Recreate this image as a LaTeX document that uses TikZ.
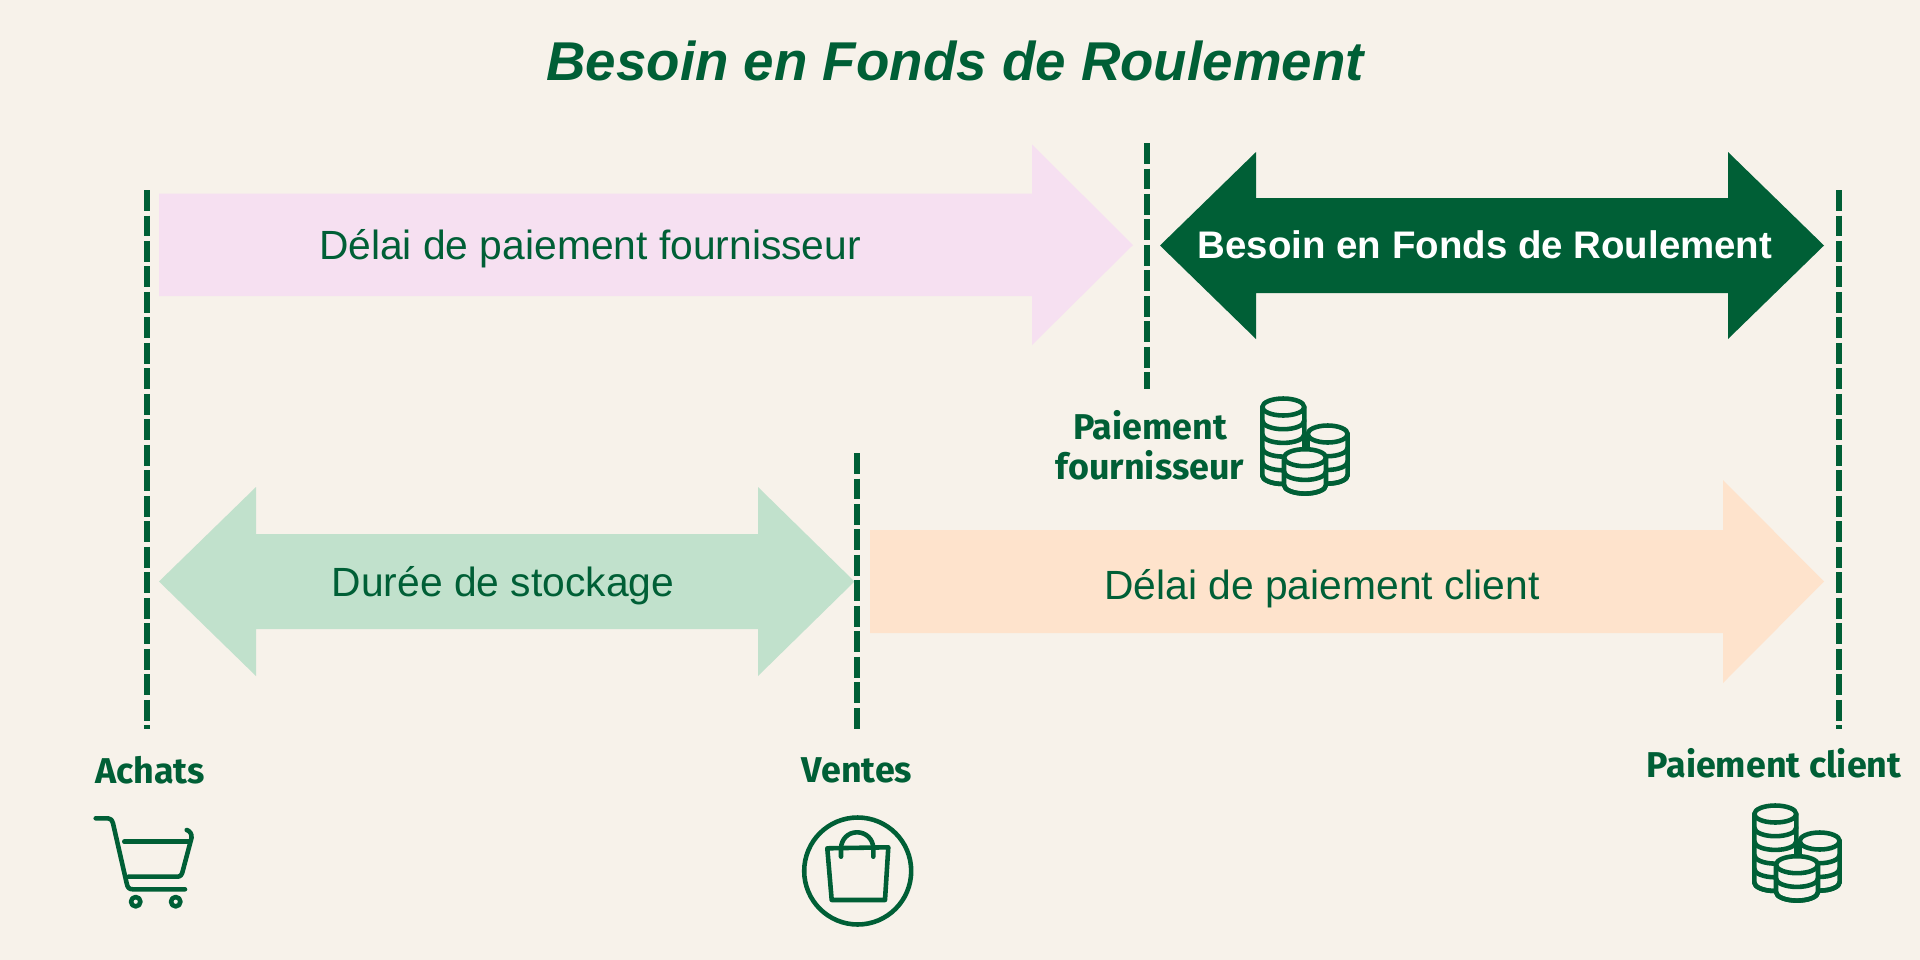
\documentclass[tikz,border=0pt]{standalone}
\usepackage{fontspec}
\setmainfont{Liberation Sans}
\newfontfamily\labelfont{Fira Sans}
\usetikzlibrary{positioning}

\definecolor{bgcream}{RGB}{247,242,234}
\definecolor{darkgreen}{RGB}{0,95,54}
\definecolor{pinkfill}{RGB}{246,224,241}
\definecolor{mintfill}{RGB}{193,225,204}
\definecolor{peachfill}{RGB}{254,227,204}

\tikzset{
  dashline/.style={darkgreen, line width=1.7pt, dash pattern=on 5.9pt off 1.35pt},
  iconline/.style={darkgreen, line width=1.3pt, line cap=round, line join=round},
  bodytext/.style={darkgreen, inner sep=0pt, font=\fontsize{11.6}{13}\selectfont},
  boldtext/.style={white, inner sep=0pt, font=\bfseries\fontsize{10.93}{13}\selectfont},
  labeltext/.style={darkgreen, inner sep=0pt, align=center, font=\labelfont\bfseries\fontsize{10.2}{11.4}\selectfont},
}

% pile de pieces : x, haut, rayon, nombre de couches
\newcommand{\coinstack}[4]{
  \filldraw [iconline, fill=bgcream] (#1-#3,#2) -- (#1-#3,#2+#4*13.7)
    arc [start angle=180, end angle=0, x radius=#3, y radius=8.5] -- (#1+#3,#2) -- cycle;
  \foreach \k in {1,...,#4} {
    \draw [iconline] (#1-#3,#2+\k*13.7) arc [start angle=180, end angle=0, x radius=#3, y radius=8.5];
  }
  \filldraw [iconline, fill=bgcream] (#1,#2) ellipse [x radius=#3, y radius=8.5];
}
\newcommand{\coinicon}[1]{
  \begin{scope}[shift={(#1)}]
    \coinstack{-21.7}{-39}{21}{5}
    \coinstack{22.7}{-12}{20}{3}
    \coinstack{0}{11.7}{21}{2}
  \end{scope}
}

\begin{document}
\begin{tikzpicture}[x=0.01cm, y=-0.01cm]
\fill [bgcream] (0,0) rectangle (1920,960);
\useasboundingbox (0,0) rectangle (1920,960);
% fleches
\fill [pinkfill] (159,193.5) -- (1032,193.5) -- (1032,144.5) -- (1133,245) -- (1032,345) -- (1032,296) -- (159,296) -- cycle;
\fill [darkgreen] (1160,245.5) -- (1256,152) -- (1256,198) -- (1728,198) -- (1728,152) -- (1824,245.5) -- (1728,339) -- (1728,293) -- (1256,293) -- (1256,339) -- cycle;
\fill [mintfill] (159,581.5) -- (256,487) -- (256,534) -- (758,534) -- (758,487) -- (854.5,581.5) -- (758,676) -- (758,629) -- (256,629) -- (256,676) -- cycle;
\fill [peachfill] (870,530) -- (1723,530) -- (1723,480) -- (1824,581.5) -- (1723,683) -- (1723,633) -- (870,633) -- cycle;
% pointilles
\coordinate (achatstop) at (147,190);
\coordinate (achatsbot) at (147,729);
\coordinate (ventestop) at (857,453);
\coordinate (ventesbot) at (857,729);
\coordinate (fourntop) at (1147,143);
\coordinate (fournbot) at (1147,389);
\coordinate (clienttop) at (1839,190);
\coordinate (clientbot) at (1839,729);
\draw [dashline] (achatstop) -- (achatsbot);
\draw [dashline] (ventestop) -- (ventesbot);
\draw [dashline] (fourntop) -- (fournbot);
\draw [dashline] (clienttop) -- (clientbot);
% textes
\node [darkgreen, inner sep=0pt, font=\bfseries\itshape\fontsize{15.55}{17}\selectfont] (title) at (955,61) {Besoin en Fonds de Roulement};
\node [bodytext] (delaifourn) at (590,249) {Délai de paiement fournisseur};
\node [boldtext] (bfr) at (1485,245) {Besoin en Fonds de Roulement};
\node [bodytext] (stockage) at (503,586) {Durée de stockage};
\node [bodytext] (delaiclient) at (1322,589) {Délai de paiement client};
\node [labeltext] (achats) at (150,770) {Achats};
\node [labeltext] (ventes) at (857,770) {Ventes};
\node [labeltext] (paiefourn) at (1150,445) {Paiement\\fournisseur};
\node [labeltext] (paieclient) at (1774,763) {Paiement client};
% icones
\coinicon{1305,446}
\coinicon{1797,853}
% chariot
\draw [iconline] (95.7,818.3) -- (108,818.3) .. controls (110.5,818.3) and (112,820) .. (113,823.3) -- (126.7,883.3) .. controls (127.5,887.5) and (129,889.3) .. (133,889.3) -- (185,889.3);
\draw [iconline] (186.7,830) .. controls (190,831) and (192,834) .. (191.5,838) -- (183,870) .. controls (182,875) and (180.5,876.7) .. (177,876.7) -- (128.3,876.7);
\draw [iconline] (124.3,841.7) -- (190,841.7);
\draw [iconline] (135.7,901.7) circle [radius=4.7];
\draw [iconline] (175.7,901.7) circle [radius=4.7];
% sac
\draw [iconline] (857.7,871) circle [radius=53.5];
\draw [iconline] (827.3,848.3) -- (888.3,847.3) -- (885,900) -- (831.7,900) -- cycle;
\draw [iconline] (841,856.7) -- (841,848) .. controls (841.5,839) and (848,832.3) .. (857,832.3) .. controls (866,832.3) and (873,839) .. (873.3,848) -- (873.3,856.7);
\end{tikzpicture}
\end{document}
